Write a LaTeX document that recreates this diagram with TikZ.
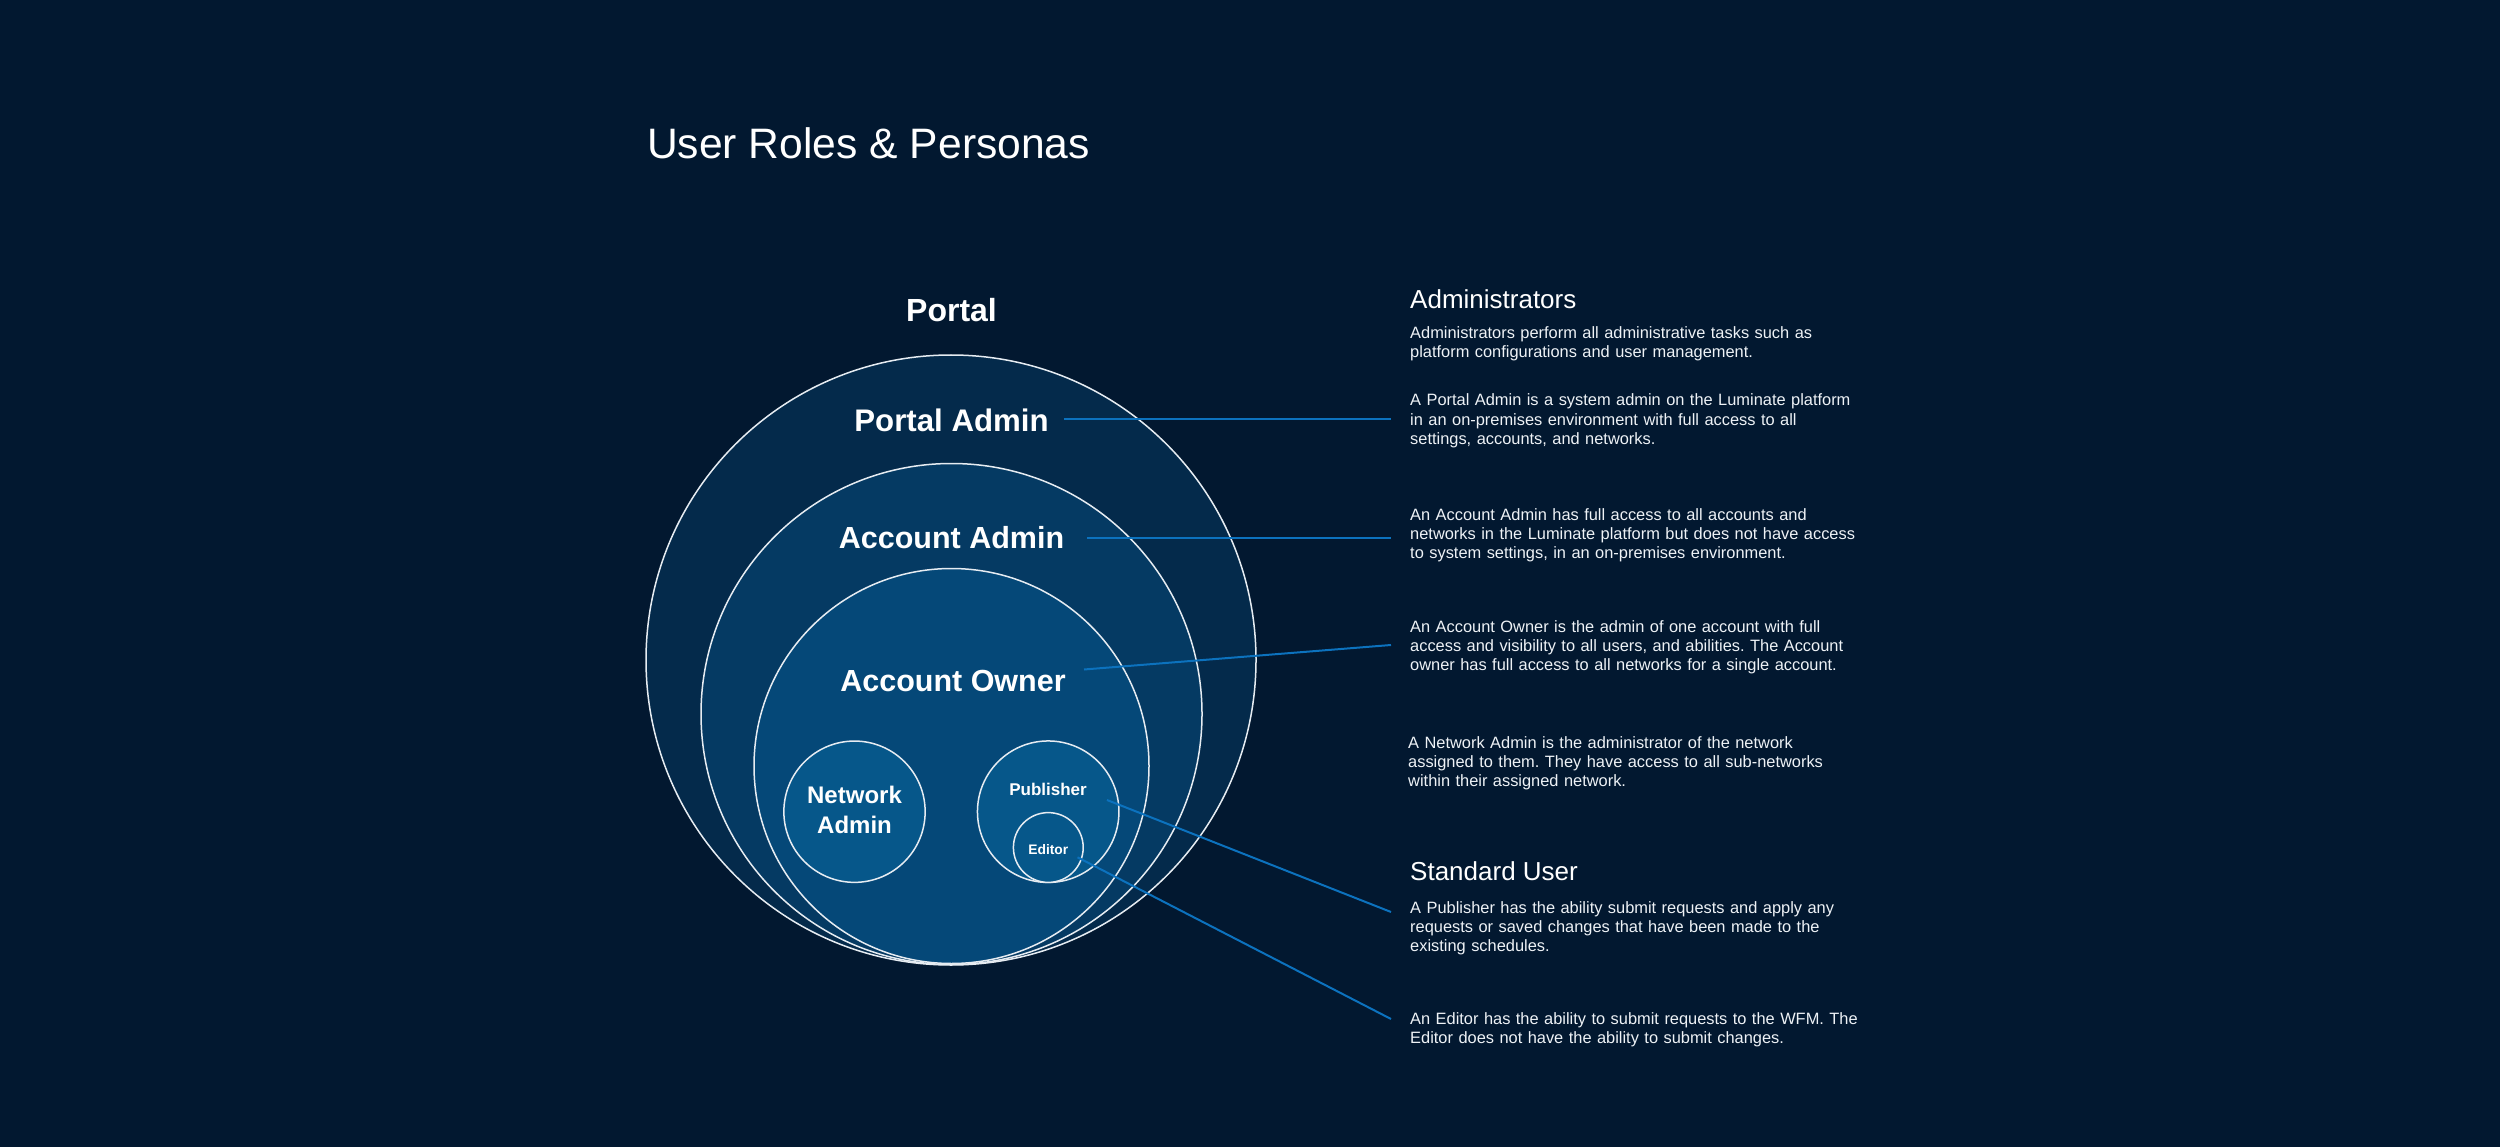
\documentclass[tikz,border=0pt]{standalone}
\usepackage{fontspec}
\setmainfont{Liberation Sans}
\frenchspacing
\definecolor{bg}{HTML}{021830}
\definecolor{lvA}{HTML}{042A4B}
\definecolor{lvB}{HTML}{053A63}
\definecolor{lvC}{HTML}{054878}
\definecolor{lvD}{HTML}{06578A}
\definecolor{connc}{HTML}{0C72BE}
\definecolor{ring}{HTML}{E6ECF2}
\definecolor{bodytxt}{HTML}{EEF2F6}
\begin{document}
\begin{tikzpicture}[x=1pt,y=-1pt,
  ringnode/.style={circle,draw=ring,line width=1.5pt,inner sep=0pt},
  lbl/.style={text=white,inner sep=0pt,anchor=base},
  head/.style={text=white,inner sep=0pt,anchor=base west,font=\fontsize{26}{30}\selectfont},
  para/.style={text=bodytxt,inner sep=0pt,anchor=base west,align=left,text width=560pt,
    font=\fontsize{16.4}{19.2}\selectfont},
  connline/.style={draw=connc,line width=2pt}]
\fill[bg] (0,0) rectangle (2500,1147);
\useasboundingbox (0,0) rectangle (2500,1147);

% title
\node[text=white,inner sep=0pt,anchor=base west,font=\fontsize{42.6}{50}\selectfont] (title) at (647,159) {User Roles \& Personas};
\node[lbl,font=\fontsize{32}{38}\selectfont\bfseries] (portal) at (951.5,321.7) {Portal};

% circles
\node[ringnode,fill=lvA,minimum size=610pt] (cPA) at (951,660) {};
\node[ringnode,fill=lvB,minimum size=501pt] (cAA) at (951.5,714) {};
\node[ringnode,fill=lvC,minimum size=395pt] (cAO) at (951.5,766) {};
\node[ringnode,fill=lvD,minimum size=141.3pt] (cNA) at (854.5,811.7) {};
\node[ringnode,fill=lvD,minimum size=141.5pt] (cPub) at (1048.2,811.7) {};
\node[ringnode,fill=lvD,minimum size=69.8pt] (cEd) at (1048.3,847.5) {};

% circle labels
\node[lbl,font=\fontsize{31.2}{38}\selectfont\bfseries] (pa) at (951.5,431.6) {Portal Admin};
\node[lbl,font=\fontsize{30.5}{38}\selectfont\bfseries] (aa) at (951.5,548.3) {Account Admin};
\node[lbl,font=\fontsize{30.5}{38}\selectfont\bfseries] (ao) at (953,691.7) {Account Owner};
\node[lbl,font=\fontsize{24}{30}\selectfont\bfseries,align=center] (na) at (854.5,833.3) {Network\\Admin};
\node[lbl,font=\fontsize{17}{20}\selectfont\bfseries] (pub) at (1048,795.7) {Publisher};
\node[lbl,font=\fontsize{13.8}{17}\selectfont\bfseries] (ed) at (1048.3,854) {Editor};

% right column
\node[head] (hAdm) at (1410,308.3) {Administrators};
\node[para] (pAdm) at (1410,338.3) {Administrators perform all administrative tasks such as\\platform configurations and user management.};
\node[para] (pPA) at (1410,406) {A Portal Admin is a system admin on the Luminate platform\\in an on-premises environment with full access to all\\settings, accounts, and networks.};
\node[para] (pAA) at (1410,520) {An Account Admin has full access to all accounts and\\networks in the Luminate platform but does not have access\\to system settings, in an on-premises environment.};
\node[para] (pAO) at (1410,632.3) {An Account Owner is the admin of one account with full\\access and visibility to all users, and abilities. The Account\\owner has full access to all networks for a single account.};
\node[para] (pNA) at (1408,748.3) {A Network Admin is the administrator of the network\\assigned to them. They have access to all sub-networks\\within their assigned network.};
\node[head] (hStd) at (1410,880.7) {Standard User};
\node[para] (pPub) at (1410,913.3) {A Publisher has the ability submit requests and apply any\\requests or saved changes that have been made to the\\existing schedules.};
\node[para] (pEd) at (1410,1024) {An Editor has the ability to submit requests to the WFM. The\\Editor does not have the ability to submit changes.};

% connector end points
\coordinate (s1) at (1064,419);
\coordinate (s2) at (1087,538);
\coordinate (s3) at (1084,669.5);
\coordinate (s4) at (1107,800);
\coordinate (s5) at (1077.5,857.3);
\coordinate (e1) at (1391,419);
\coordinate (e2) at (1391,538);
\coordinate (e3) at (1391,645);
\coordinate (e4) at (1391,912);
\coordinate (e5) at (1391,1019);

\draw[connline] (s1) -- (e1);
\draw[connline] (s2) -- (e2);
\draw[connline] (s3) -- (e3);
\draw[connline] (s4) -- (e4);
\draw[connline] (s5) -- (e5);
\end{tikzpicture}
\end{document}
